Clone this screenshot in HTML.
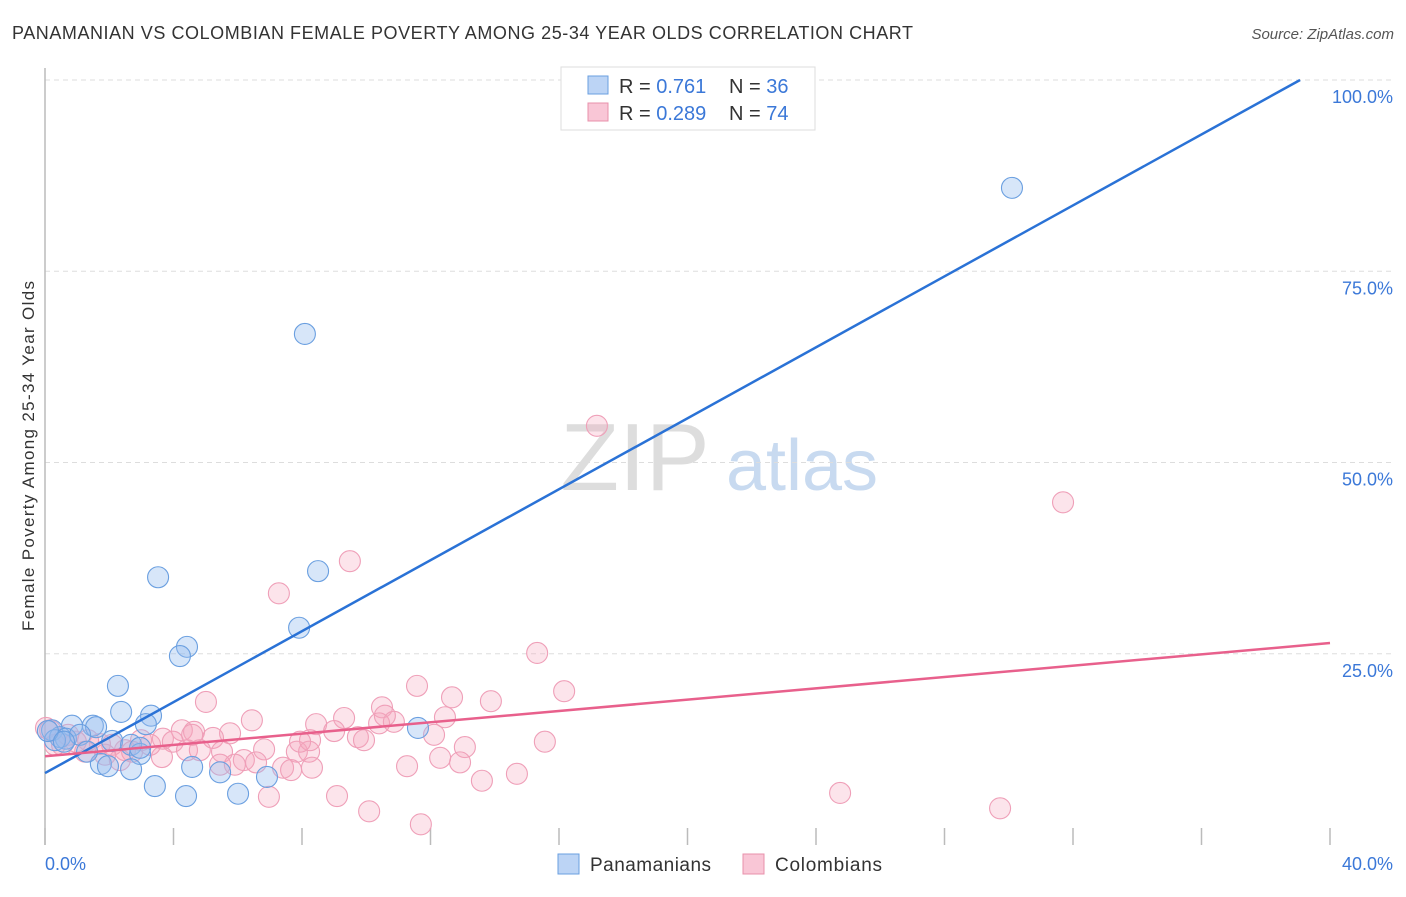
<!DOCTYPE html>
<html><head><meta charset="utf-8"><style>
body{margin:0;background:#fff;font-family:"Liberation Sans",sans-serif}
svg text{font-family:"Liberation Sans",sans-serif}
</style></head><body>
<svg width="1406" height="892" xmlns="http://www.w3.org/2000/svg">
<text x="12" y="39" font-size="18" fill="#333" textLength="901">PANAMANIAN VS COLOMBIAN FEMALE POVERTY AMONG 25-34 YEAR OLDS CORRELATION CHART</text>
<text x="1394" y="39" font-size="15" fill="#555" font-style="italic" text-anchor="end">Source: ZipAtlas.com</text>
<g>
<text x="635" y="490" font-size="96" fill="#ddd" font-family="Liberation Serif" text-anchor="middle">ZIP</text>
<text x="802" y="490" font-size="72" fill="#c8daf0" text-anchor="middle">atlas</text>
</g>
<g id="grid"></g>
<line x1="45" y1="68" x2="45" y2="845" stroke="#bbb" stroke-width="1.5"/>
<g id="xticks"></g>
<text x="34" y="456" font-size="17" fill="#333" text-anchor="middle" textLength="350" transform="rotate(-90 34 456)">Female Poverty Among 25-34 Year Olds</text>
<text x="45" y="870" font-size="18" fill="#3b78d8">0.0%</text>
<text x="1393" y="870" font-size="18" fill="#3b78d8" text-anchor="end">40.0%</text>
<g id="pink"></g><g id="blue"></g><g id="lines"></g>
<g>
<rect x="561" y="67" width="254" height="63" fill="#fff" stroke="#ddd"/>
<rect x="588" y="76" width="20" height="18" fill="#bcd4f5" stroke="#6a9fe0"/>
<rect x="588" y="103" width="20" height="18" fill="#f9c6d6" stroke="#e890ab"/>
<text x="619" y="93" font-size="20" fill="#333">R = <tspan fill="#3b78d8">0.761</tspan></text>
<text x="729" y="93" font-size="20" fill="#333">N = <tspan fill="#3b78d8">36</tspan></text>
<text x="619" y="120" font-size="20" fill="#333">R = <tspan fill="#3b78d8">0.289</tspan></text>
<text x="729" y="120" font-size="20" fill="#333">N = <tspan fill="#3b78d8">74</tspan></text>
</g>
<g>
<rect x="558" y="854" width="21" height="20" fill="#bcd4f5" stroke="#6a9fe0"/>
<text x="590" y="871" font-size="19" fill="#333" textLength="121">Panamanians</text>
<rect x="743" y="854" width="21" height="20" fill="#f9c6d6" stroke="#e890ab"/>
<text x="775" y="871" font-size="19" fill="#333" textLength="107">Colombians</text>
</g>
</svg>
<script>
const yTicks=[25,50,75,100];
const yTickLabels=["25.0%","50.0%","75.0%","100.0%"];
const xTicks=[0,4,8,12,16,20,24,28,32,36,40];
const blueX=[30.10,8.09,3.52,8.50,7.91,4.42,4.20,2.27,2.37,3.30,3.14,1.49,0.84,1.59,0.22,0.47,0.65,1.09,0.31,2.09,2.68,2.96,1.74,1.96,1.31,4.58,2.68,5.45,6.91,3.42,4.39,6.01,11.61,0.09,0.59,2.96];
const blueY=[85.9,66.8,35.0,35.8,28.4,25.9,24.7,20.8,17.4,16.9,15.8,15.6,15.6,15.4,15.0,14.1,13.9,14.4,13.7,13.6,13.1,11.9,10.6,10.3,12.2,10.2,9.9,9.5,8.9,7.7,6.4,6.7,15.3,14.9,13.5,12.7];
const pinkX=[17.18,31.69,9.49,7.28,15.32,11.58,16.16,5.01,12.67,13.88,10.49,9.31,6.44,10.40,10.86,12.11,12.45,8.44,9.00,9.74,9.93,13.07,15.56,4.26,4.64,5.76,5.23,6.82,7.84,8.22,3.67,2.99,3.98,4.42,4.82,5.51,3.64,6.19,6.57,5.45,5.91,7.41,7.66,8.31,12.30,12.92,11.27,14.69,13.60,6.97,9.09,10.09,11.70,24.75,29.73,2.49,2.09,1.71,1.34,0.96,0.53,0.16,0.03,1.25,2.33,2.71,3.27,0.72,0.31,1.87,10.58,8.25,7.94,4.58];
const pinkY=[54.8,44.8,37.1,32.9,25.1,20.8,20.1,18.7,19.3,18.8,18.0,16.6,16.3,15.9,16.1,14.4,16.7,15.8,14.9,14.1,13.7,12.8,13.5,15.0,14.8,14.6,14.0,12.5,12.2,12.2,13.9,13.7,13.5,12.4,12.4,12.2,11.5,11.1,10.8,10.5,10.5,10.1,9.8,10.1,11.4,10.8,10.3,9.3,8.4,6.3,6.4,4.4,2.7,6.8,4.8,12.4,13.1,13.2,13.7,13.5,13.1,15.0,15.3,12.2,11.1,12.2,13.1,14.4,13.1,11.8,16.9,13.7,13.5,14.4];
const blueTrend=[9.4,2.319];
const pinkTrend=[11.6,0.37];
const NS="http://www.w3.org/2000/svg";
const X0=45,X1=1330,Y0=845,Y1=80;
function sx(v){return X0+v/40*(X1-X0);}
function sy(v){return Y0-v/100*(Y0-Y1);}
function mk(t,a,p){const e=document.createElementNS(NS,t);for(const k in a)e.setAttribute(k,a[k]);p.appendChild(e);return e;}
const grid=document.getElementById('grid');
yTicks.forEach((v,i)=>{
  const l=mk('line',{x1:45,x2:1394,y1:sy(v),y2:sy(v),stroke:'#ddd','stroke-dasharray':'5,4'},grid);
  
  
  const t=mk('text',{x:1393,y:sy(v)+23,'font-size':18,fill:'#3b78d8','text-anchor':'end'},grid);
  t.textContent=yTickLabels[i];
  
  
});
const xt=document.getElementById('xticks');
xTicks.forEach(v=>{
  const l=mk('line',{x1:sx(v),x2:sx(v),y1:828,y2:845,stroke:'#bbb','stroke-width':1.5},xt);
  
  
});
function pts(xs,ys,g,fill,stroke,name){
  xs.forEach((x,i)=>{
    const c=mk('circle',{cx:sx(x),cy:sy(ys[i]),r:10.5,fill:fill,stroke:stroke,'stroke-width':1.1},g);
    
    
  });
}
pts(pinkX,pinkY,document.getElementById('pink'),'rgba(245,165,190,0.3)','#ef9fb8','colombian-point');
pts(blueX,blueY,document.getElementById('blue'),'rgba(150,190,240,0.38)','#6a9fe0','panamanian-point');
const lg=document.getElementById('lines');
const bxEnd=(100-blueTrend[0])/blueTrend[1];
const bl=mk('line',{x1:sx(0),y1:sy(blueTrend[0]),x2:sx(bxEnd),y2:sy(100),stroke:'#2a72d6','stroke-width':2.5},lg);


const pl=mk('line',{x1:sx(0),y1:sy(pinkTrend[0]),x2:sx(40),y2:sy(pinkTrend[0]+40*pinkTrend[1]),stroke:'#e8608c','stroke-width':2.5},lg);


</script>
</body></html>
